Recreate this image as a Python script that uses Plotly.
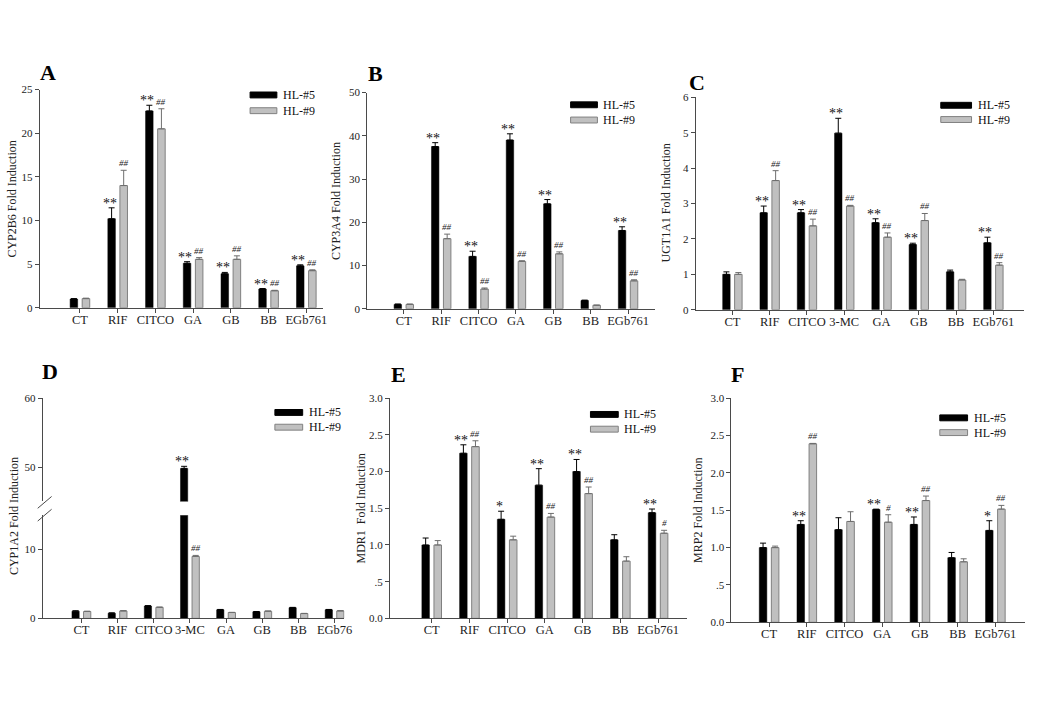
import plotly.graph_objects as go

W, H = 1050, 704
SERIES = ["HL-#5", "HL-#9"]

# ---------------- data ----------------
A_cats = ["CT", "RIF", "CITCO", "GA", "GB", "BB", "EGb761"]
A_hl5 = [1.0, 10.2, 22.55, 5.1, 3.9, 2.15, 4.8]
A_hl5_err = [0.05, 1.25, 0.65, 0.18, 0.15, 0.05, 0.12]
A_hl9 = [1.05, 14.0, 20.5, 5.55, 5.55, 1.95, 4.25]
A_hl9_err = [0.05, 1.75, 2.3, 0.2, 0.4, 0.05, 0.1]
A_sig5 = ["", "**", "**", "**", "**", "**", "**"]
A_sig9 = ["", "##", "##", "##", "##", "##", "##"]

B_cats = ["CT", "RIF", "CITCO", "GA", "GB", "BB", "EGb761"]
B_hl5 = [1.0, 37.5, 12.1, 39.0, 24.25, 1.9, 18.1]
B_hl5_err = [0.1, 0.9, 1.2, 1.45, 1.0, 0.1, 0.85]
B_hl9 = [1.0, 16.2, 4.55, 10.95, 12.7, 0.8, 6.45]
B_hl9_err = [0.1, 1.05, 0.25, 0.15, 0.45, 0.05, 0.25]
B_sig5 = ["", "**", "**", "**", "**", "", "**"]
B_sig9 = ["", "##", "##", "##", "##", "", "##"]

C_cats = ["CT", "RIF", "CITCO", "3-MC", "GA", "GB", "BB", "EGb761"]
C_hl5 = [1.0, 2.74, 2.74, 4.99, 2.46, 1.84, 1.07, 1.89]
C_hl5_err = [0.07, 0.19, 0.09, 0.42, 0.11, 0.04, 0.05, 0.16]
C_hl9 = [1.0, 3.65, 2.37, 2.93, 2.05, 2.52, 0.84, 1.26]
C_hl9_err = [0.05, 0.28, 0.19, 0.02, 0.12, 0.2, 0.02, 0.07]
C_sig5 = ["", "**", "**", "**", "**", "**", "", "**"]
C_sig9 = ["", "##", "##", "##", "##", "##", "", "##"]

D_cats = ["CT", "RIF", "CITCO", "3-MC", "GA", "GB", "BB", "EGb76"]
D_hl5 = [1.05, 0.75, 1.8, 49.8, 1.25, 0.95, 1.55, 1.25]
D_hl5_err = [0.05, 0.05, 0.05, 0.3, 0.05, 0.05, 0.05, 0.05]
D_hl9 = [1.0, 1.08, 1.6, 9.0, 0.85, 1.04, 0.7, 1.08]
D_hl9_err = [0.05, 0.05, 0.05, 0.15, 0.03, 0.03, 0.03, 0.05]
D_sig5 = ["", "", "", "**", "", "", "", ""]
D_sig9 = ["", "", "", "##", "", "", "", ""]

E_cats = ["CT", "RIF", "CITCO", "GA", "GB", "BB", "EGb761"]
E_hl5 = [1.0, 2.25, 1.35, 1.815, 2.0, 1.07, 1.44]
E_hl5_err = [0.095, 0.115, 0.11, 0.225, 0.165, 0.07, 0.05]
E_hl9 = [1.0, 2.34, 1.07, 1.38, 1.70, 0.78, 1.16]
E_hl9_err = [0.06, 0.08, 0.05, 0.05, 0.09, 0.06, 0.04]
E_sig5 = ["", "**", "*", "**", "**", "", "**"]
E_sig9 = ["", "##", "", "##", "##", "", "#"]

F_cats = ["CT", "RIF", "CITCO", "GA", "GB", "BB", "EGb761"]
F_hl5 = [1.0, 1.31, 1.24, 1.51, 1.31, 0.865, 1.23]
F_hl5_err = [0.06, 0.05, 0.16, 0.005, 0.1, 0.07, 0.13]
F_hl9 = [1.0, 2.39, 1.35, 1.34, 1.63, 0.81, 1.515]
F_hl9_err = [0.02, 0.005, 0.13, 0.1, 0.06, 0.04, 0.05]
F_sig5 = ["", "**", "", "**", "**", "", "*"]
F_sig9 = ["", "##", "", "#", "##", "", "##"]

half_ticks = [0, 0.5, 1.0, 1.5, 2.0, 2.5, 3.0]
half_text = ["0.0", ".5", "1.0", "1.5", "2.0", "2.5", "3.0"]

# ---------------- layout config (pixels) ----------------
panels = [
    dict(n=1, letter="A", title="CYP2B6 Fold Induction", cats=A_cats, d5=A_hl5, e5=A_hl5_err,
         d9=A_hl9, e9=A_hl9_err, s5=A_sig5, s9=A_sig9,
         xd=(40, 325), yd=(85, 307), xr=(-1.066, 6.43), yr=(0, 25),
         tv=[0, 5, 10, 15, 20, 25], tt=None,
         lp=(48, 68), tp=(12, 196), leg=(252, 279, 90.5, 106.5)),
    dict(n=2, letter="B", title="CYP3A4 Fold Induction", cats=B_cats, d5=B_hl5, e5=B_hl5_err,
         d9=B_hl9, e9=B_hl9_err, s5=B_sig5, s9=B_sig9,
         xd=(370, 660), yd=(88, 308), xr=(-0.98, 6.72), yr=(0, 50),
         tv=[0, 10, 20, 30, 40, 50], tt=None,
         lp=(378, 69), tp=(338, 198), leg=(575, 602, 100.5, 116)),
    dict(n=3, letter="C", title="UGT1A1 Fold Induction", cats=C_cats, d5=C_hl5, e5=C_hl5_err,
         d9=C_hl9, e9=C_hl9_err, s5=C_sig5, s9=C_sig9,
         xd=(701, 1032), yd=(93, 309), xr=(-0.985, 7.825), yr=(0, 6),
         tv=[0, 1, 2, 3, 4, 5, 6], tt=None,
         lp=(702, 78), tp=(671, 200), leg=(948, 979, 101, 115.5)),
    dict(n=4, letter="D", title="CYP1A2 Fold Induction", cats=D_cats, d5=D_hl5, e5=D_hl5_err,
         d9=D_hl9, e9=D_hl9_err, s5=D_sig5, s9=D_sig9,
         xd=(43, 347), yd=(518, 623), xr=(-1.07, 7.27), yr=(0, 15),
         tv=[0, 10], tt=None,
         lp=(50, 372), tp=(14, 519), leg=(277, 305, 413.5, 428.5),
         upper=dict(n=7, yd=(399, 504), yr=(45, 60), tv=[50, 60])),
    dict(n=5, letter="E", title="MDR1  Fold Induction", cats=E_cats, d5=E_hl5, e5=E_hl5_err,
         d9=E_hl9, e9=E_hl9_err, s5=E_sig5, s9=E_sig9,
         xd=(393, 692), yd=(399, 623), xr=(-1.105, 6.76), yr=(0, 3),
         tv=half_ticks, tt=half_text,
         lp=(402, 375), tp=(364, 511), leg=(595, 623, 415.5, 430.5)),
    dict(n=6, letter="F", title="MRP2 Fold Induction", cats=F_cats, d5=F_hl5, e5=F_hl5_err,
         d9=F_hl9, e9=F_hl9_err, s5=F_sig5, s9=F_sig9,
         xd=(737, 1033), yd=(399, 627), xr=(-1.0, 6.79), yr=(0, 3),
         tv=half_ticks, tt=half_text,
         lp=(743, 375), tp=(704, 513), leg=(947, 975, 419, 434)),
]

FONT = "Liberation Serif"
AXC = "#4a4a4a"
BLACK = "#000000"
GRAY = "#c0c0c0"
GRAY_LINE = "#808080"


def px_x(p):
    return p / W


def px_y(p):
    return 1 - p / H


fig = go.Figure()
layout = {}
annotations = []
shapes = []


def yaxis_cfg(ydom, yr, tv, tt, xname):
    cfg = dict(domain=[px_y(ydom[1]), px_y(ydom[0])], range=list(yr), anchor=xname,
               showline=True, linecolor=AXC, linewidth=1, ticks="outside", ticklen=4,
               tickcolor=AXC, tickwidth=1, showgrid=False, zeroline=False,
               tickmode="array", tickvals=tv,
               tickfont=dict(family=FONT, size=11, color="#222"))
    if tt is not None:
        cfg["ticktext"] = tt
    return cfg


def add_bars(cats, d5, e5, d9, e9, xname, yname):
    n = len(cats)
    fig.add_trace(go.Bar(
        x=cats, y=d5, name=SERIES[0], xaxis=xname, yaxis=yname, showlegend=False,
        marker=dict(color=BLACK, line=dict(color=BLACK, width=0.5)),
        error_y=dict(type="data", symmetric=False, array=e5, arrayminus=[0] * n,
                     color=BLACK, thickness=1, width=3)))
    fig.add_trace(go.Bar(
        x=cats, y=d9, name=SERIES[1], xaxis=xname, yaxis=yname, showlegend=False,
        marker=dict(color=GRAY, line=dict(color=GRAY_LINE, width=1)),
        error_y=dict(type="data", symmetric=False, array=e9, arrayminus=[0] * n,
                     color="#6e6e6e", thickness=1, width=3)))


for p in panels:
    n = p["n"]
    xname, yname = f"x{n}", f"y{n}"
    add_bars(p["cats"], p["d5"], p["e5"], p["d9"], p["e9"], xname, yname)

    layout[f"xaxis{n}"] = dict(
        domain=[px_x(p["xd"][0]), px_x(p["xd"][1])], range=list(p["xr"]), anchor=yname,
        type="category", showline=True, linecolor=AXC, linewidth=1,
        ticks="outside", ticklen=4, tickcolor=AXC, tickwidth=1,
        showgrid=False, zeroline=False, tickmode="array",
        tickvals=p["cats"], ticktext=p["cats"], ticklabelstandoff=-4,
        tickfont=dict(family=FONT, size=12.5, color="#222"))
    layout[f"yaxis{n}"] = yaxis_cfg(p["yd"], p["yr"], p["tv"], p["tt"], xname)

    up = p.get("upper")
    if up:
        un = up["n"]
        add_bars(p["cats"], p["d5"], p["e5"], p["d9"], p["e9"], xname, f"y{un}")
        layout[f"yaxis{un}"] = yaxis_cfg(up["yd"], up["yr"], up["tv"], None, xname)
        # axis break marks
        x0a = p["xd"][0]
        for dy in (0, 13):
            shapes.append(dict(type="line", xref="paper", yref="paper",
                               x0=px_x(x0a - 5), y0=px_y(511 + dy),
                               x1=px_x(x0a + 9), y1=px_y(499 + dy),
                               line=dict(color=AXC, width=1)))

    # significance marks
    for i, cat in enumerate(p["cats"]):
        for sig, vals, errs, off, is5 in ((p["s5"], p["d5"], p["e5"], -0.16, True),
                                           (p["s9"], p["d9"], p["e9"], 0.16, False)):
            if not sig[i]:
                continue
            top = vals[i] + errs[i]
            yref = yname
            if up and top > p["yr"][1]:
                yref = f"y{up['n']}"
            if is5:
                annotations.append(dict(x=i + off, y=top, xref=xname, yref=yref,
                                        text=sig[i], showarrow=False, xanchor="center",
                                        yanchor="bottom", yshift=-5, xshift=-2,
                                        font=dict(family=FONT, size=14, color="#111")))
            else:
                annotations.append(dict(x=i + off, y=top, xref=xname, yref=yref,
                                        text=f"<i>{sig[i]}</i>", showarrow=False,
                                        xanchor="center", yanchor="bottom", yshift=0,
                                        font=dict(family=FONT, size=9, color="#222")))

    # panel letter
    annotations.append(dict(x=px_x(p["lp"][0]), y=px_y(p["lp"][1]), xref="paper", yref="paper",
                            text=f"<b>{p['letter']}</b>", showarrow=False,
                            xanchor="center", yanchor="middle",
                            font=dict(family=FONT, size=22, color="#000")))
    # y axis title
    annotations.append(dict(x=px_x(p["tp"][0]), y=px_y(p["tp"][1]), xref="paper", yref="paper",
                            text=p["title"], textangle=-90, showarrow=False,
                            xanchor="center", yanchor="middle",
                            font=dict(family=FONT, size=12, color="#222")))
    # legend keys
    lx0, lx1, ly5, ly9 = p["leg"]
    for (ly, col, lc, name) in ((ly5, BLACK, BLACK, SERIES[0]), (ly9, GRAY, GRAY_LINE, SERIES[1])):
        shapes.append(dict(type="rect", xref="paper", yref="paper",
                           x0=px_x(lx0), x1=px_x(lx1), y0=px_y(ly + 3), y1=px_y(ly - 3),
                           fillcolor=col, line=dict(color=lc, width=1)))
        annotations.append(dict(x=px_x(lx1 + 4), y=px_y(ly), xref="paper", yref="paper",
                                text=name, showarrow=False, xanchor="left", yanchor="middle",
                                font=dict(family=FONT, size=12, color="#111")))

fig.update_layout(
    width=W, height=H, margin=dict(l=0, r=0, t=0, b=0),
    paper_bgcolor="white", plot_bgcolor="white",
    barmode="group", bargap=0.36, bargroupgap=0.375,
    showlegend=False, annotations=annotations, shapes=shapes,
    **layout)

fig.write_html("out.html", config={"displayModeBar": False},
               post_script="document.body.style.margin='0';document.body.style.overflow='hidden';")
